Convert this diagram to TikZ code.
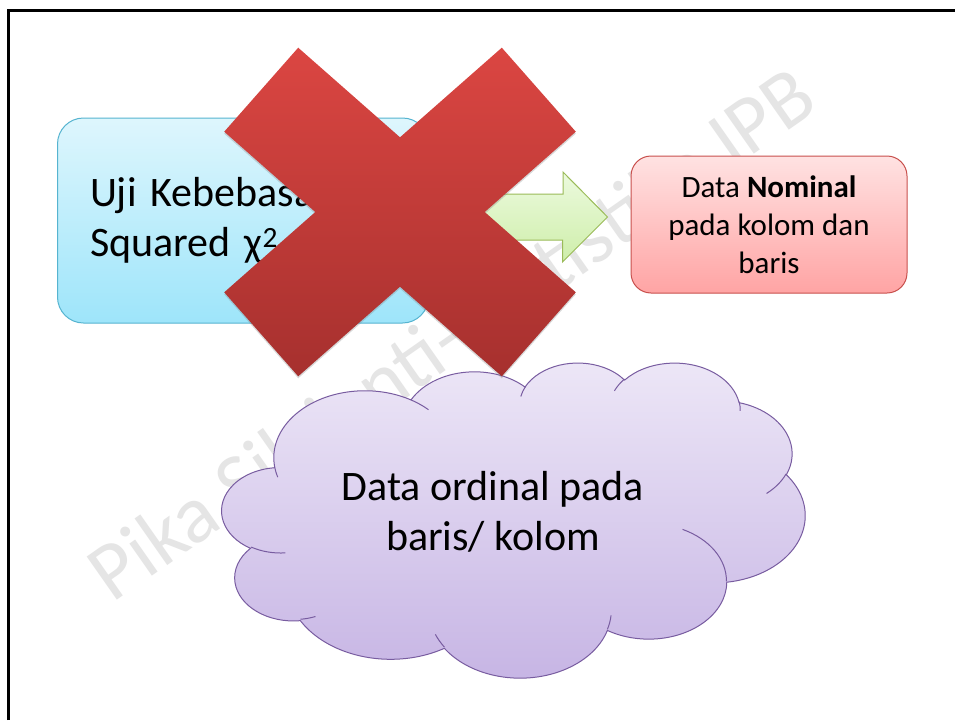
\documentclass[tikz,border=0pt]{standalone}
\usepackage{xcolor}
\usepackage{fontspec}
\setmainfont{Carlito}
\usetikzlibrary{calc,shadows}

\definecolor{biru1}{RGB}{222,246,253}
\definecolor{biru2}{RGB}{158,229,250}
\definecolor{biru3}{RGB}{86,180,208}
\definecolor{merah1}{RGB}{255,226,226}
\definecolor{merah2}{RGB}{255,164,164}
\definecolor{merah3}{RGB}{200,80,77}
\definecolor{hijau1}{RGB}{236,250,222}
\definecolor{hijau2}{RGB}{206,238,170}
\definecolor{hijau3}{RGB}{155,187,89}
\definecolor{ungu1}{RGB}{237,231,247}
\definecolor{ungu2}{RGB}{198,180,228}
\definecolor{ungu3}{RGB}{120,92,160}
\definecolor{silang1}{RGB}{219,70,66}
\definecolor{silang2}{RGB}{166,48,46}

\begin{document}
\begin{tikzpicture}[x=1pt,y=1pt,
	declare function={
		sudut(\p,\w,\h)=atan2(\w*sin(\p),\h*cos(\p));
		sapuan(\p,\s,\w,\h)=\s+mod(sudut(\p+\s,\w,\h)-sudut(\p,\w,\h)-\s+900,360)-180;},
	kotak/.style={draw,line width=1pt,inner sep=0pt},
	besar/.style={font=\fontsize{42}{50}\selectfont},
	awan/.style={draw=ungu3,line width=1pt,top color=ungu1,bottom color=ungu2},
	panah/.style={draw=hijau3,line width=1pt,top color=hijau1,bottom color=hijau2},
	silang/.style={top color=silang1,bottom color=silang2,
		drop shadow={opacity=0.3,shadow xshift=0pt,shadow yshift=-2pt}}]
	\useasboundingbox (0,0) rectangle (955,-720);
	\fill[white] (0,0) rectangle (955,-720);
	\draw[line width=3pt] (8,-720) -- (8,-10) -- (955,-10);

	% tanda air
	\node[anchor=base west,rotate=35,text=gray!20,font=\fontsize{82}{82}\selectfont]
		(tandaair) at (110,-606) {Pika Silvianti-Statistika IPB};

	% awan
	\begin{scope}[shift={(222,-362)},x=1.3495pt,y=-0.7292pt]
		\path[awan] (39.00,143.70)
			\foreach \rx/\ry/\ma/\sw in {67.53/91.90/-190.4875/123.7805,
				53.33/72.67/-144.1024/89.9452, 43.65/59.45/-145.8079/99.7230,
				48.57/65.95/-130.9861/117.2417, 53.33/72.73/-78.7089/109.0269,
				67.75/92.20/-46.2673/130.2690, 57.85/78.67/0.6250/114.0333,
				67.52/92.15/22.4516/115.1726, 77.20/105.43/66.2426/75.7110,
				43.60/59.18/-274.9421/146.7356, 43.45/59.45/-246.8285/152.5189}
			{arc[x radius=\rx,y radius=\ry,start angle={sudut(\ma,\rx,\ry)},
				delta angle={sapuan(\ma,\sw,\rx,\ry)}]} -- cycle;
		\foreach \px/\py/\rx/\ry/\ma/\sw in {46.93/261.77/43.45/59.45/86.7420/26.4295,
			69.28/348.99/43.60/59.18/73.6105/11.4475,
			164.78/390.90/67.52/92.15/137.6242/14.0811,
			288.27/347.51/67.52/92.15/6.4533/15.9984,
			341.29/229.54/57.85/78.67/-70.2924/70.9174,
			417.98/153.54/53.33/72.73/30.3180/27.7515,
			383.24/54.26/48.57/65.95/-13.7443/14.8589,
			290.78/39.52/48.57/65.95/-149.1815/18.1954,
			221.41/47.20/43.65/59.45/-163.4943/17.6864,
			140.00/51.92/67.53/91.90/-66.7070/12.3194,
			41.27/157.89/67.53/91.90/157.6544/11.8582}
			\draw[ungu3,line width=1pt] (\px,\py) arc[x radius=\rx,y radius=\ry,
				start angle={sudut(\ma,\rx,\ry)},delta angle={sapuan(\ma,\sw,\rx,\ry)}];
	\end{scope}
	\node[besar,align=center] (ordinal) at (493,-512) {Data ordinal pada\\baris/ kolom};

	% kotak kiri dan kanan
	\node[kotak,draw=biru3,top color=biru1,bottom color=biru2,rounded corners=26pt,
		minimum width=371pt,minimum height=205pt,text width=306pt,align=left,besar]
		(uji) at (243,-220.5) {\mbox{Uji Kebebasan Chi-}\\Squared χ\textsuperscript{2}};
	\node[kotak,draw=merah3,top color=merah1,bottom color=merah2,rounded corners=20pt,
		minimum width=276pt,minimum height=137pt,align=center,
		font=\fontsize{31}{38}\selectfont]
		(nominal) at (769,-224.5) {Data \textbf{Nominal}\\pada kolom dan\\baris};

	\coordinate (pangkal) at ([xshift=14pt,yshift=3.5pt]uji.east);
	\coordinate (ujung) at ([xshift=-23pt,yshift=7.5pt]nominal.west);
	\path[panah] (pangkal) ++(0,23) -- ++(120,0) -- ++(0,22) -- (ujung)
		-- ++(-45,-45) -- ++(0,22) -- ++(-120,0) -- cycle;

	% tanda silang
	\begin{scope}[shift={(400,-212)}]
		\path[silang] (-101.8,164.3) -- (0,74.7) -- (101.8,164.3) -- (175.8,80.3)
			-- (84.7,0) -- (175.8,-80.3) -- (101.8,-164.3) -- (0,-74.7)
			-- (-101.8,-164.3) -- (-175.8,-80.3) -- (-84.7,0) -- (-175.8,80.3) -- cycle;
	\end{scope}
\end{tikzpicture}
\end{document}
